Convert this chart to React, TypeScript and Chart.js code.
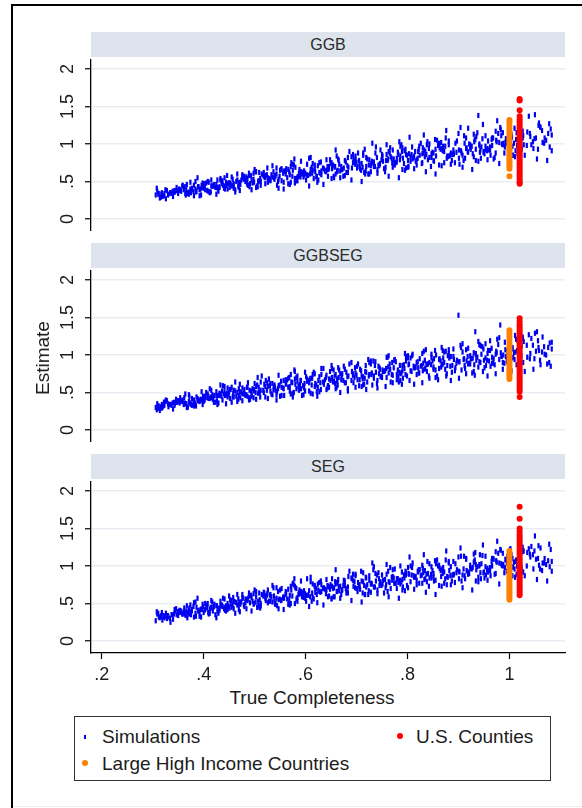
import React, { useEffect, useRef } from 'react';
import { Chart, registerables } from 'chart.js';

Chart.register(...registerables);

// ---- tick definitions ----
const xTickValues = [0.2, 0.4, 0.6, 0.8, 1];
const xTickLabels = ['.2', '.4', '.6', '.8', '1'];
const yTickValues = [0, 0.5, 1, 1.5, 2];
const yTickLabels = ['0', '.5', '1', '1.5', '2'];

const panelTitles = ['GGB', 'GGBSEG', 'SEG'];

// ---- simulations, batch A: true completeness (shared by all three estimators) ----
const simCompleteness = [
  .331,.309,.340,.318,.325,.306,.337,.314,.344,.321,.328,.311,.335,.316,.342,.323,.308,.330,.319,.339,.312,.326,.334,.317,.343,.322,
  .352,.375,.346,.363,.385,.371,.354,.380,.359,.368,.349,.377,.365,.356,.384,.372,.347,.361,.381,.353,.369,.358,.386,.374,.350,.366,
  .402,.425,.392,.415,.408,.397,.429,.419,.389,.405,.412,.423,.399,.394,.417,.427,.407,.390,.421,.400,.414,.396,.410,.426,.403,.418,
  .464,.441,.452,.433,.469,.447,.458,.437,.462,.444,.472,.455,.431,.450,.466,.440,.459,.435,.468,.446,.453,.442,.471,.457,.438,.449,
  .499,.477,.508,.486,.493,.474,.505,.482,.512,.489,.496,.479,.503,.484,.510,.491,.476,.498,.487,.507,.480,.494,.502,.485,.511,.490,
  .524,.547,.518,.535,.557,.543,.526,.552,.531,.540,.521,.549,.537,.528,.556,.544,.519,.533,.553,.525,.541,.530,.558,.546,.522,.538,
  .574,.597,.564,.587,.580,.569,.601,.591,.561,.577,.584,.595,.571,.566,.589,.599,.579,.562,.593,.572,.586,.568,.582,.598,.575,.590,
  .636,.613,.624,.605,.641,.619,.630,.609,.634,.616,.644,.627,.603,.622,.638,.612,.631,.607,.640,.618,.625,.614,.643,.629,.610,.621,
  .671,.649,.680,.658,.665,.646,.677,.654,.684,.661,.668,.651,.675,.656,.682,.663,.648,.670,.659,.679,.652,.666,.674,.657,.683,.662,
  .696,.719,.690,.707,.729,.715,.698,.724,.703,.712,.693,.721,.709,.700,.728,.716,.691,.705,.725,.697,.713,.702,.730,.718,.694,.710,
  .746,.769,.736,.759,.752,.741,.773,.763,.733,.749,.756,.767,.743,.738,.761,.771,.751,.734,.765,.744,.758,.740,.754,.770,.747,.762,
  .808,.785,.796,.777,.813,.791,.802,.781,.806,.788,.816,.799,.775,.794,.810,.784,.803,.779,.812,.790,.797,.786,.815,.801,.782,.793,
  .843,.821,.852,.830,.837,.818,.849,.826,.856,.833,.840,.823,.847,.828,.854,.835,.820,.842,.831,.851,.824,.838,.846,.829,.855,.834,
  .868,.891,.862,.879,.901,.887,.870,.896,.875,.884,.865,.893,.881,.872,.900,.888,.863,.877,.897,.869,.885,.874,.902,.890,.866,.882,
  .918,.941,.908,.931,.924,.913,.945,.935,.905,.921,.928,.939,.915,.910,.933,.943,.923,.906,.937,.916,.930,.912,.926,.942,.919,.934,
  .980,.957,.968,.949,.985,.963,.974,.953,.978,.960,.988,.971,.947,.966,.982,.956,.975,.951,.984,.962,.969,.958,.987,.973,.954,.965,
  1.015,.993,1.024,1.002,1.009,.990,1.021,.998,1.028,1.005,1.012,.995,1.019,1.000,1.026,1.007,.992,1.014,1.003,1.023,.996,1.010,1.018,1.001,1.027,1.006,
  1.041,1.068,1.035,1.079,1.052,1.060,1.046,1.083,1.038,1.072,1.056,1.064,1.049,1.076,1.043,1.058,
];

// ---- simulations, batch A: estimates by method ----
const simGGB = [
  .33,.37,.30,.35,.39,.32,.34,.28,.36,.31,.38,.33,.35,.29,.36,.34,.41,.32,.30,.37,.34,.27,.35,.33,.38,.31,
  .40,.35,.38,.43,.36,.33,.39,.37,.45,.34,.38,.41,.32,.37,.40,.36,.42,.39,.31,.38,.35,.44,.37,.40,.34,.39,
  .41,.46,.39,.44,.50,.42,.37,.45,.43,.48,.35,.42,.47,.40,.44,.52,.38,.43,.46,.41,.36,.45,.49,.42,.39,.44,
  .50,.44,.48,.54,.42,.47,.45,.51,.39,.49,.46,.56,.43,.48,.52,.41,.47,.50,.44,.58,.46,.40,.49,.53,.45,.48,
  .49,.55,.51,.46,.58,.52,.44,.54,.50,.61,.48,.53,.42,.56,.51,.47,.59,.53,.45,.50,.57,.52,.63,.48,.54,.43,
  .59,.53,.62,.56,.49,.60,.55,.66,.52,.58,.47,.57,.63,.54,.61,.45,.56,.59,.51,.68,.57,.53,.64,.50,.58,.55,
  .57,.64,.55,.61,.69,.59,.52,.63,.60,.72,.56,.62,.49,.66,.58,.61,.54,.67,.60,.75,.57,.63,.51,.59,.65,.56,
  .67,.61,.71,.58,.65,.63,.76,.60,.68,.54,.66,.62,.73,.57,.64,.69,.59,.81,.63,.67,.52,.65,.70,.61,.66,.56,
  .66,.74,.62,.70,.78,.67,.58,.72,.69,.84,.64,.75,.68,.55,.71,.65,.79,.70,.60,.76,.67,.73,.57,.69,.82,.63,
  .77,.70,.83,.67,.74,.62,.79,.72,.88,.69,.75,.80,.65,.76,.71,.93,.68,.78,.60,.73,.85,.70,.77,.64,.81,.74,
  .74,.81,.70,.86,.77,.66,.80,.90,.75,.79,.63,.83,.72,.96,.78,.69,.84,.76,.88,.71,.78,.82,.67,.75,.92,.80,
  .86,.79,.93,.75,.84,.81,.70,.89,.83,.99,.77,.85,.72,.91,.80,1.03,.87,.76,.82,.95,.68,.84,.90,.78,.86,.74,
  .82,.90,.77,.95,.86,.72,.89,1.01,.84,.92,.79,.97,.87,.74,1.06,.90,.81,.94,.88,.78,.85,.99,.70,.87,.93,.83,
  .94,.87,1.01,.83,.92,.78,.97,.89,1.08,.85,.93,.75,.99,.90,1.14,.86,.95,.81,1.04,.91,.88,.97,.73,.92,1.02,.84,
  .90,.98,.85,1.03,.93,.81,.96,1.10,.91,1.00,.87,1.38,.94,.78,1.06,.92,.99,.88,1.15,.95,.83,1.01,.97,.89,1.21,.93,
  1.02,.94,1.08,.89,1.00,.85,1.05,.97,1.14,.92,1.01,.82,1.07,.98,1.22,.91,1.03,.87,1.11,.96,.80,1.04,.99,1.17,.93,1.06,
  .98,1.07,.93,1.12,1.01,.88,1.05,1.18,.99,1.09,.91,1.03,1.27,.96,1.08,.85,1.02,1.15,.94,1.06,1.00,1.21,.90,1.04,1.11,.97,
  1.10,1.01,1.16,.96,1.08,1.23,1.03,1.12,1.37,1.05,.93,1.18,1.07,1.14,.99,1.28,
];

const simGGBSEG = [
  .31,.35,.28,.34,.38,.30,.33,.26,.36,.32,.39,.29,.34,.31,.37,.33,.27,.35,.30,.36,.32,.40,.34,.29,.33,.37,
  .39,.34,.41,.36,.32,.38,.43,.35,.40,.30,.37,.42,.35,.39,.33,.45,.37,.34,.40,.36,.31,.38,.44,.36,.39,.35,
  .40,.46,.38,.43,.48,.41,.36,.44,.39,.50,.42,.37,.45,.41,.47,.34,.43,.40,.46,.38,.44,.51,.42,.39,.45,.41,
  .45,.51,.42,.48,.55,.44,.49,.40,.52,.47,.43,.57,.46,.50,.38,.48,.53,.45,.41,.49,.54,.46,.51,.44,.59,.47,
  .54,.48,.57,.45,.52,.50,.60,.46,.53,.43,.55,.49,.58,.47,.51,.41,.56,.52,.63,.49,.54,.47,.50,.57,.44,.53,
  .53,.59,.50,.62,.55,.47,.58,.65,.52,.57,.44,.60,.54,.68,.56,.51,.61,.48,.57,.63,.53,.59,.46,.55,.66,.58,
  .63,.56,.67,.53,.61,.58,.71,.55,.62,.50,.65,.59,.74,.57,.60,.52,.68,.61,.46,.64,.58,.70,.55,.62,.49,.66,
  .61,.69,.57,.66,.73,.62,.54,.68,.64,.77,.59,.71,.65,.51,.67,.60,.82,.63,.70,.58,.66,.74,.56,.63,.69,.60,
  .73,.66,.77,.62,.70,.68,.81,.64,.72,.57,.75,.69,.85,.65,.71,.60,.78,.67,.74,.63,.70,.80,.66,.72,.55,.68,
  .70,.77,.66,.81,.74,.61,.76,.72,.88,.68,.75,.64,.79,.73,.92,.69,.78,.59,.74,.83,.71,.67,.76,.86,.63,.72,
  .81,.74,.86,.70,.78,.66,.83,.76,.92,.72,.79,.64,.85,.77,.97,.73,.80,.69,.88,.75,.82,.62,.78,.90,.71,.84,
  .78,.86,.74,.91,.83,.69,.87,.80,.96,.76,.84,.72,.94,.82,1.01,.77,.88,.67,.85,.79,.92,.75,.83,.99,.71,.87,
  .90,.83,.95,.79,.87,.74,.92,.85,1.00,.81,.88,.76,.97,.86,1.06,.82,.91,.72,.89,.84,.95,.78,.87,1.02,.80,.93,
  .87,.94,.82,.99,.91,.77,.96,.89,1.05,.85,.92,.79,1.02,.90,1.53,.86,.95,.75,.93,.88,.98,.81,.91,1.08,.84,.96,
  .98,.91,1.04,.87,.95,.82,1.01,.93,1.10,.89,.96,.84,1.07,.94,1.31,.90,.99,.80,.97,.92,1.03,.86,.95,1.13,.88,1.00,
  .94,1.02,.89,1.08,.98,.85,1.05,.96,1.14,.92,1.00,.87,1.11,.97,1.40,.93,1.03,.83,.99,1.19,.95,1.06,.90,1.01,.86,1.09,
  1.06,.98,1.12,.93,1.03,.89,1.09,1.00,1.18,.96,1.04,.91,1.15,1.01,1.24,.97,1.07,.87,1.10,.99,1.05,.94,1.13,1.02,.90,1.08,
  1.02,1.11,.97,1.16,1.05,.93,1.13,1.08,1.27,1.00,1.19,1.04,.95,1.10,1.22,1.06,
];

const simSEG = [
  .32,.36,.29,.38,.33,.27,.35,.31,.40,.34,.30,.37,.25,.33,.36,.31,.39,.34,.28,.35,.32,.37,.30,.34,.42,.33,
  .40,.35,.43,.37,.33,.41,.38,.46,.36,.31,.39,.42,.34,.40,.37,.44,.35,.39,.32,.41,.38,.36,.45,.39,.34,.40,
  .41,.47,.39,.44,.50,.42,.37,.45,.40,.48,.43,.35,.46,.42,.52,.39,.44,.41,.49,.38,.45,.43,.36,.47,.42,.40,
  .51,.45,.55,.47,.42,.50,.58,.46,.52,.40,.49,.54,.44,.60,.48,.43,.53,.47,.56,.45,.50,.41,.52,.48,.57,.46,
  .50,.57,.47,.54,.61,.52,.45,.56,.50,.64,.53,.48,.59,.43,.55,.51,.62,.49,.57,.53,.46,.58,.52,.55,.44,.60,
  .61,.55,.65,.52,.59,.57,.68,.54,.62,.49,.60,.56,.71,.53,.58,.47,.64,.59,.55,.63,.50,.61,.57,.66,.54,.60,
  .60,.67,.56,.64,.71,.61,.53,.66,.62,.75,.58,.65,.50,.69,.63,.57,.73,.64,.59,.68,.62,.55,.70,.61,.77,.64,
  .71,.64,.76,.61,.68,.65,.80,.59,.70,.56,.73,.66,.83,.62,.69,.53,.75,.67,.63,.72,.68,.58,.74,.65,.79,.70,
  .68,.75,.64,.79,.72,.60,.74,.70,.86,.66,.73,.57,.81,.71,.65,.77,.69,.62,.76,.70,.83,.67,.74,.59,.72,.78,
  .79,.72,.84,.69,.77,.74,.89,.67,.78,.64,.81,.75,.93,.70,.76,.62,.83,.73,.87,.71,.79,.66,.76,.85,.73,.80,
  .77,.85,.72,.89,.81,.68,.84,.79,.95,.74,.82,.70,.91,.80,.66,.86,.76,.99,.78,.83,.75,.88,.64,.81,.79,.93,
  .88,.81,.93,.77,.85,.72,.90,.83,1.00,.79,.86,.74,.96,.84,1.04,.80,.89,.70,.87,.82,.91,.76,.85,.98,.78,.88,
  .84,.92,.80,.97,.89,.75,.94,.87,1.03,.82,.90,.77,.99,.88,1.07,.83,.93,.73,.91,.86,.95,.79,.89,1.01,.81,.94,
  .96,.89,1.01,.85,.93,.80,.98,.91,1.08,.87,.94,.78,1.04,.92,1.12,.88,.97,.75,.95,.90,.99,.83,.92,1.06,.86,.94,
  .92,1.00,.88,1.06,.97,.83,1.03,.95,1.13,.90,.98,.85,1.09,.96,1.18,.91,1.01,.80,.99,.94,1.05,.87,.96,1.15,.89,1.02,
  1.04,.97,1.10,.91,1.01,.87,1.07,.99,1.17,.94,1.02,.89,1.14,1.00,1.22,.95,1.05,.84,1.03,.98,1.09,.92,1.00,1.19,.88,1.06,
  1.00,1.08,.95,1.14,1.05,.91,1.11,1.02,1.20,.98,1.06,.93,1.17,1.04,1.25,.99,1.09,.89,1.07,1.01,1.13,.96,1.04,1.22,.92,1.10,
  1.12,1.04,1.18,.99,1.09,.96,1.15,1.06,1.23,1.02,1.10,.94,1.20,1.07,1.26,1.01,
];

// ---- simulations, batch B (wider-scatter runs) ----
const simCompletenessB = [
  .371,.398,.362,.425,.384,.409,.367,.431,.392,.415,.377,.403,.364,.420,.388,.412,.374,.428,.395,.381,
  .447,.489,.436,.471,.498,.455,.441,.482,.462,.503,.451,.476,.433,.494,.466,.444,.486,.459,.500,.469,
  .512,.553,.539,.506,.571,.526,.561,.517,.547,.575,.531,.509,.566,.543,.521,.557,.535,.514,.569,.550,
  .584,.627,.603,.579,.641,.596,.618,.588,.635,.610,.582,.646,.599,.623,.591,.631,.607,.578,.644,.614,
  .655,.698,.672,.651,.713,.683,.664,.706,.690,.659,.717,.677,.701,.668,.693,.652,.710,.686,.662,.719,
  .728,.771,.745,.723,.786,.757,.737,.779,.763,.731,.790,.750,.774,.741,.766,.725,.783,.759,.734,.789,
  .801,.843,.818,.795,.858,.829,.809,.851,.836,.804,.862,.822,.847,.813,.839,.797,.855,.832,.806,.860,
  .872,.915,.890,.867,.930,.901,.881,.923,.908,.876,.934,.894,.919,.885,.911,.869,.927,.904,.878,.932,
  .944,.987,.962,.939,1.002,.973,.953,.995,.980,.948,1.006,.966,.991,.957,.983,.941,.999,.976,.950,1.004,
  1.016,1.061,1.034,1.011,1.078,1.047,1.026,1.069,1.054,1.020,1.083,1.040,1.065,1.030,1.057,1.013,1.074,1.050,1.023,1.081,
];

const simGGB_B = [
  .35,.48,.41,.33,.50,.37,.46,.42,.31,.52,.39,.47,.34,.44,.55,.36,.49,.40,.32,.45,
  .40,.58,.47,.38,.61,.44,.55,.50,.36,.63,.42,.57,.52,.39,.60,.45,.54,.41,.66,.48,
  .45,.67,.53,.43,.70,.49,.64,.58,.41,.73,.51,.62,.47,.68,.55,.40,.71,.60,.46,.65,
  .51,.75,.59,.48,.79,.56,.72,.66,.46,.82,.54,.70,.61,.49,.77,.64,.44,.80,.57,.74,
  .57,.84,.66,.54,.88,.62,.80,.73,.52,.92,.60,.78,.68,.55,.86,.71,.50,.90,.64,.82,
  .63,.92,.72,.60,.97,.69,.88,.81,.57,1.01,.66,.86,.75,.61,.95,.79,.55,.99,.70,.90,
  .69,1.00,.79,.65,1.05,.75,.96,.88,.63,1.09,.72,.93,.82,.67,1.03,.86,.60,1.12,.77,.98,
  .75,1.08,.86,.71,1.13,.81,1.04,.95,.69,1.18,.78,1.01,.89,.73,1.11,.93,.66,1.22,.84,1.06,
  .81,1.15,.92,.77,1.21,.88,1.11,1.02,.74,1.26,.85,1.08,.96,.79,1.19,1.00,.72,1.31,.90,1.13,
  .87,1.22,.98,.83,1.27,.94,1.17,1.08,.80,1.33,.91,1.14,1.02,.85,1.25,1.06,.78,1.39,.96,1.20,
];

const simGGBSEG_B = [
  .47,.34,.43,.51,.36,.45,.30,.49,.39,.53,.33,.44,.48,.37,.42,.55,.35,.46,.40,.32,
  .56,.40,.52,.61,.43,.37,.58,.47,.64,.41,.54,.39,.60,.45,.50,.35,.57,.44,.62,.46,
  .64,.46,.60,.70,.48,.42,.67,.53,.73,.44,.62,.50,.69,.40,.58,.66,.47,.72,.52,.45,
  .72,.51,.68,.78,.54,.47,.75,.60,.82,.49,.70,.57,.77,.45,.66,.74,.52,.80,.59,.48,
  .80,.57,.75,.86,.60,.52,.83,.67,.90,.55,.78,.63,.85,.50,.73,.82,.58,.88,.65,.54,
  .88,.63,.83,.94,.66,.58,.91,.74,.99,.60,.86,.70,.93,.56,.81,.90,.64,.97,.72,.61,
  .96,.69,.90,1.02,.72,.63,.99,.81,1.07,.66,.94,.76,1.01,.61,.88,.98,.70,1.05,.79,.67,
  1.04,.75,.98,1.10,.78,.69,1.07,.88,1.15,.72,1.02,.83,1.09,.66,.95,1.06,.76,1.13,.86,.73,
  1.12,.81,1.06,1.18,.84,.75,1.15,.95,1.23,.78,1.10,.89,1.17,.72,1.03,1.14,.82,1.21,.93,.79,
  1.19,.87,1.13,1.26,.90,.81,1.22,1.01,1.31,.84,1.17,.95,1.24,.78,1.10,1.21,.88,1.29,.99,.85,
];

const simSEG_B = [
  .36,.49,.44,.31,.52,.38,.47,.41,.33,.54,.40,.50,.35,.46,.57,.37,.48,.43,.32,.51,
  .42,.60,.48,.39,.63,.45,.56,.51,.37,.66,.44,.58,.53,.40,.62,.47,.55,.43,.68,.49,
  .47,.70,.55,.45,.73,.51,.66,.60,.43,.76,.53,.64,.49,.71,.57,.42,.74,.62,.48,.68,
  .53,.78,.61,.50,.82,.58,.74,.68,.48,.85,.56,.72,.63,.51,.80,.66,.46,.83,.59,.76,
  .59,.87,.68,.56,.91,.64,.82,.75,.54,.95,.62,.80,.70,.57,.89,.73,.52,.93,.66,.84,
  .65,.95,.74,.62,1.00,.71,.90,.83,.59,1.04,.68,.88,.77,.63,.98,.81,.57,1.02,.72,.92,
  .71,1.03,.81,.67,1.08,.77,.98,.90,.65,1.12,.74,.95,.84,.69,1.06,.88,.62,1.15,.79,1.00,
  .77,1.10,.88,.73,1.16,.83,1.06,.97,.71,1.20,.80,1.03,.91,.75,1.13,.95,.68,1.24,.86,1.08,
  .83,1.17,.94,.79,1.23,.90,1.13,1.04,.76,1.28,.87,1.10,.98,.81,1.21,1.02,.74,1.33,.92,1.15,
  .89,1.24,1.00,.85,1.29,.96,1.19,1.10,.82,1.35,.93,1.16,1.04,.87,1.27,1.08,.80,1.40,.98,1.22,
];

// ---- observed groups ----
const highIncomeCompleteness = 1.0;
const countiesCompleteness = 1.02;

const highIncomeGGB = [.57,.67,.70,.72,.75,.77,.80,.83,.85,.88,.91,.93,.96,.99,1.02,1.05,1.08,1.11,1.14,1.17,1.21,1.25,1.29,1.32];
const countiesGGB = [.47,.49,.52,.55,.58,.61,.64,.67,.70,.73,.76,.79,.82,.85,.88,.91,.94,.97,1.00,1.03,1.06,1.09,1.12,1.15,1.18,1.21,1.24,1.27,1.30,1.33,1.37,1.45,1.58,1.60];

const highIncomeGGBSEG = [.68,.71,.74,.77,.80,.83,.86,.89,.92,.95,.98,1.01,1.04,1.07,1.10,1.13,1.17,1.21,1.25,1.29,1.33];
const countiesGGBSEG = [.44,.51,.54,.57,.60,.63,.66,.69,.72,.75,.78,.81,.84,.87,.90,.93,.96,.99,1.02,1.05,1.08,1.11,1.14,1.17,1.20,1.23,1.26,1.29,1.32,1.35,1.38,1.41,1.45,1.49];

const highIncomeSEG = [.55,.58,.61,.64,.67,.70,.73,.76,.79,.82,.85,.88,.91,.94,.97,1.00,1.03,1.06,1.09,1.12,1.16,1.20];
const countiesSEG = [.61,.64,.67,.70,.73,.76,.79,.82,.85,.88,.91,.94,.97,1.00,1.03,1.06,1.09,1.12,1.15,1.18,1.21,1.24,1.27,1.30,1.33,1.36,1.39,1.42,1.46,1.50,1.63,1.79];

const simAByPanel = [simGGB, simGGBSEG, simSEG];
const simBByPanel = [simGGB_B, simGGBSEG_B, simSEG_B];
const highIncomeByPanel = [highIncomeGGB, highIncomeGGBSEG, highIncomeSEG];
const countiesByPanel = [countiesGGB, countiesGGBSEG, countiesSEG];

// ---- styling ----
const FONT = '"Liberation Sans", Arial, Helvetica, sans-serif';
const TEXT = '#1c1c1c';
const BLUE = '#0000f0';
const ORANGE = '#ff8000';
const RED = '#ff0000';
const STRIP = '#dde4ed';
const GRID = '#e9eef4';

// ---- layout (page pixels) ----
const CANVAS_LEFT = 20;
const CANVAS_WIDTH = 560;
const AXIS_X = 91;
const PLOT_RIGHT = 565;
const PLOT_H = 172;
const X_AXIS_H = 30;
const PANEL_TOP = [59, 270, 481];
const STRIP_TOP = [32, 243, 454];
const STRIP_H = 25;
const Y_LABEL_X = 68;

Chart.defaults.font.family = FONT;

const rotatedYLabels = {
  id: 'rotatedYLabels',
  afterDraw(chart: any) {
    const s = chart.scales.y;
    const ctx = chart.ctx as CanvasRenderingContext2D;
    ctx.save();
    ctx.fillStyle = TEXT;
    ctx.font = `18px ${FONT}`;
    ctx.textAlign = 'center';
    ctx.textBaseline = 'middle';
    const lx = Y_LABEL_X - CANVAS_LEFT;
    yTickValues.forEach((v, i) => {
      const py = s.getPixelForValue(v);
      ctx.save();
      ctx.translate(lx, py);
      ctx.rotate(-Math.PI / 2);
      ctx.fillText(yTickLabels[i], 0, 0);
      ctx.restore();
    });
    ctx.restore();
  },
};

function pairUp(xs: number[], ys: number[]) {
  const n = Math.min(xs.length, ys.length);
  const out = [] as { x: number; y: number }[];
  for (let i = 0; i < n; i++) out.push({ x: xs[i], y: ys[i] });
  return out;
}

function Panel({ index }: { index: number }) {
  const ref = useRef<HTMLCanvasElement | null>(null);
  const showX = index === 2;
  const height = PLOT_H + (showX ? X_AXIS_H : 0);

  useEffect(() => {
    if (!ref.current) return;
    const simPoints = [
      ...pairUp(simCompleteness, simAByPanel[index]),
      ...pairUp(simCompletenessB, simBByPanel[index]),
    ];
    const hiPoints = highIncomeByPanel[index].map((y) => ({ x: highIncomeCompleteness, y }));
    const coPoints = countiesByPanel[index].map((y) => ({ x: countiesCompleteness, y }));

    const chart = new Chart(ref.current, {
      type: 'scatter',
      data: {
        datasets: [
          {
            label: 'Simulations',
            data: simPoints,
            order: 3,
            pointStyle: 'line',
            rotation: 90,
            radius: 2.6,
            borderWidth: 2.2,
            borderColor: BLUE,
            backgroundColor: BLUE,
          },
          {
            label: 'Large High Income Countries',
            data: hiPoints,
            order: 2,
            pointStyle: 'circle',
            radius: 3,
            borderWidth: 0,
            backgroundColor: ORANGE,
          },
          {
            label: 'U.S. Counties',
            data: coPoints,
            order: 1,
            pointStyle: 'circle',
            radius: 3,
            borderWidth: 0,
            backgroundColor: RED,
          },
        ],
      },
      options: {
        animation: false,
        responsive: false,
        maintainAspectRatio: false,
        events: [],
        layout: {
          autoPadding: false,
          padding: { left: 0, right: CANVAS_LEFT + CANVAS_WIDTH - PLOT_RIGHT, top: 0, bottom: 0 },
        },
        plugins: { legend: { display: false }, tooltip: { enabled: false } },
        scales: {
          x: {
            type: 'linear',
            display: showX,
            min: 0.179,
            max: 1.109,
            afterBuildTicks: (s: any) => {
              s.ticks = xTickValues.map((value) => ({ value }));
            },
            afterFit: (s: any) => {
              s.height = showX ? X_AXIS_H : 0;
            },
            ticks: {
              padding: 5,
              maxRotation: 0,
              minRotation: 0,
              color: TEXT,
              font: { size: 18, family: FONT },
              callback: (v: any) => {
                const i = xTickValues.findIndex((t) => Math.abs(t - Number(v)) < 1e-9);
                return i >= 0 ? xTickLabels[i] : '';
              },
            },
            grid: { drawOnChartArea: false, drawTicks: true, tickLength: 6, tickColor: '#000', tickWidth: 1.2 },
            border: { display: true, color: '#000', width: 1.3 },
          },
          y: {
            type: 'linear',
            min: -0.16,
            max: 2.133,
            afterBuildTicks: (s: any) => {
              s.ticks = yTickValues.map((value) => ({ value }));
            },
            afterFit: (s: any) => {
              s.width = AXIS_X - CANVAS_LEFT;
            },
            ticks: { display: false },
            grid: { color: GRID, lineWidth: 1.5, drawTicks: true, tickLength: 6, tickColor: '#000', tickWidth: 1.2 },
            border: { display: true, color: '#000', width: 1.3 },
          },
        },
      },
      plugins: [rotatedYLabels],
    } as any);
    return () => chart.destroy();
  }, [index]);

  return (
    <canvas
      ref={ref}
      width={CANVAS_WIDTH}
      height={height}
      style={{ position: 'absolute', left: CANVAS_LEFT, top: PANEL_TOP[index], width: CANVAS_WIDTH, height, display: 'block' }}
    />
  );
}

function Strip({ index }: { index: number }) {
  return (
    <div
      style={{
        position: 'absolute',
        left: AXIS_X,
        top: STRIP_TOP[index],
        width: PLOT_RIGHT - AXIS_X,
        height: STRIP_H,
        background: STRIP,
        display: 'flex',
        alignItems: 'center',
        justifyContent: 'center',
        font: `16px ${FONT}`,
        color: '#2a2a2a',
      }}
    >
      {panelTitles[index]}
    </div>
  );
}

const textStyle = (left: number, top: number, size: number): React.CSSProperties => ({
  position: 'absolute',
  left,
  top,
  font: `${size}px ${FONT}`,
  lineHeight: `${size}px`,
  color: TEXT,
  whiteSpace: 'nowrap',
});

export default function App() {
  return (
    <div style={{ position: 'absolute', left: 0, top: 0, width: 582, height: 808, background: '#fff', overflow: 'hidden' }}>
      {/* outer frame */}
      <div style={{ position: 'absolute', left: 11, top: 4, width: 571, height: 2, background: '#000' }} />
      <div style={{ position: 'absolute', left: 11, top: 4, width: 2, height: 804, background: '#000' }} />
      <div style={{ position: 'absolute', left: 13, top: 806, width: 569, height: 1, background: '#ececec' }} />

      {[0, 1, 2].map((i) => (
        <Strip key={`s${i}`} index={i} />
      ))}
      {[0, 1, 2].map((i) => (
        <Panel key={`p${i}`} index={i} />
      ))}

      {/* y axis title */}
      <div
        style={{
          position: 'absolute',
          left: 43,
          top: 358,
          transform: 'translate(-50%, -50%) rotate(-90deg)',
          font: `19px ${FONT}`,
          color: TEXT,
          whiteSpace: 'nowrap',
        }}
      >
        Estimate
      </div>

      {/* x axis title */}
      <div style={{ ...textStyle(0, 688, 19), width: 624, textAlign: 'center' }}>True Completeness</div>

      {/* legend */}
      <div
        style={{
          position: 'absolute',
          left: 74,
          top: 716,
          width: 477,
          height: 65,
          border: '1.5px solid #333',
          boxSizing: 'border-box',
        }}
      />
      <div style={{ position: 'absolute', left: 84, top: 735, width: 2, height: 4, background: BLUE }} />
      <div style={textStyle(102, 727, 19)}>Simulations</div>
      <div style={{ position: 'absolute', left: 397, top: 733, width: 6, height: 6, borderRadius: 3, background: RED }} />
      <div style={textStyle(416, 727, 19)}>U.S. Counties</div>
      <div style={{ position: 'absolute', left: 82, top: 760, width: 6, height: 6, borderRadius: 3, background: ORANGE }} />
      <div style={textStyle(102, 754, 19)}>Large High Income Countries</div>
    </div>
  );
}
